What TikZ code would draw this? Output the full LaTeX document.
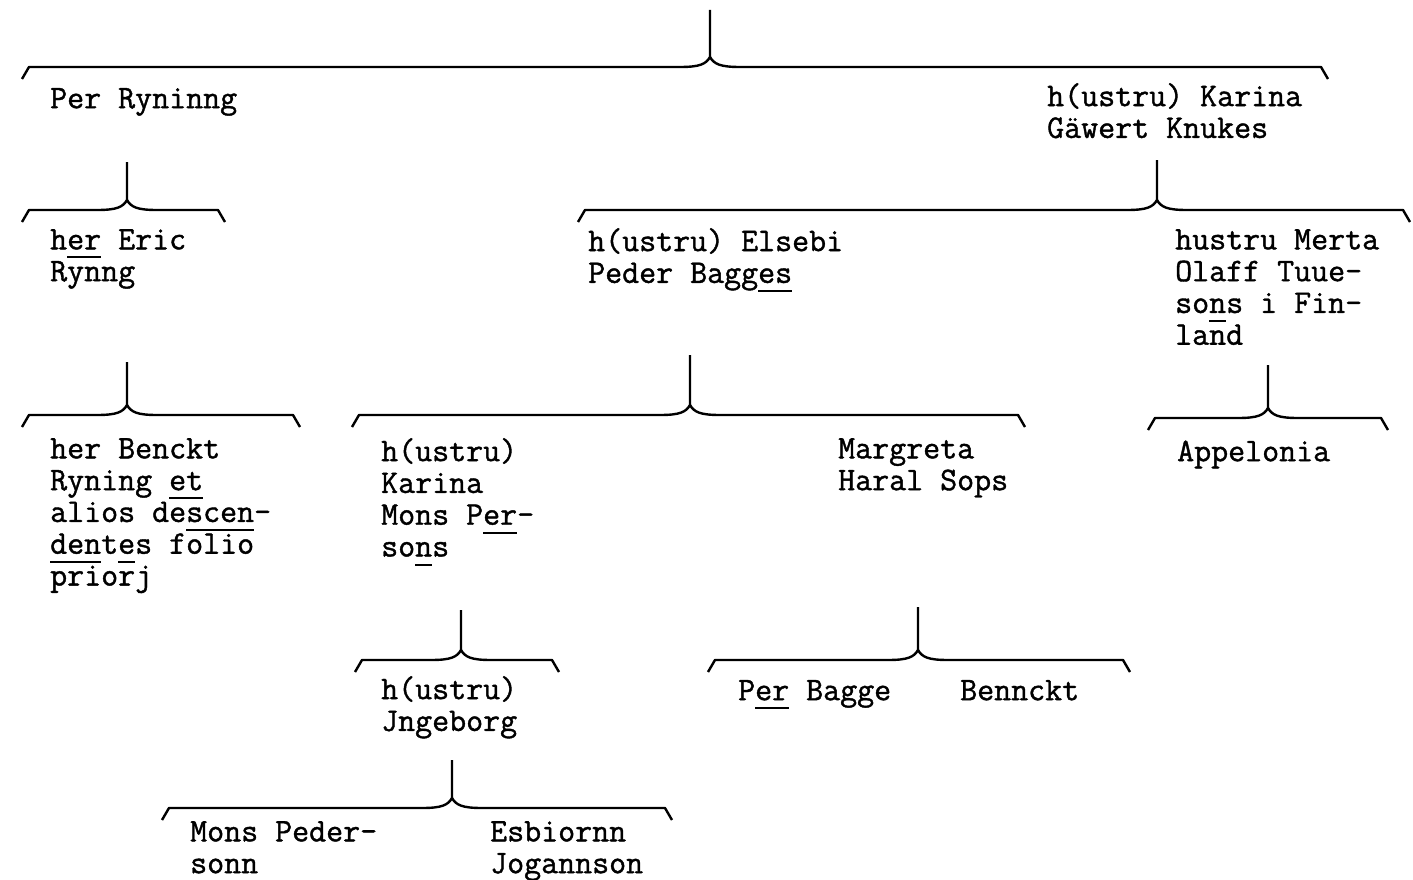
\documentclass[tikz,border=0pt]{standalone}
\usepackage{fontspec}
\newfontface\typed{Latin Modern Mono}[FakeBold=1.2]

% underline a few letters, placed low like the typed original
\newcommand{\xul}[1]{\setbox0\hbox{#1}\rlap{\rule[-9pt]{\wd0}{2pt}}\box0\relax}

% family brace: stem x, stem top, bar y, left tip x, right tip x
\newcommand{\kinbrace}[5]{%
  \draw[kinline] (#1,#2) -- (#1,#3-10)
    .. controls (#1-4,#3-3) and (#1-10,#3) .. (#1-30,#3) -- (#4+7,#3) -- (#4,#3+12);
  \draw[kinline] (#1,#3-10)
    .. controls (#1+4,#3-3) and (#1+10,#3) .. (#1+30,#3) -- (#5-7,#3) -- (#5,#3+12);
}

\tikzset{
  kinline/.style={line width=2.4pt, line join=round},
  % the point given is the baseline of the first line
  person/.style={anchor=north west, yshift=25pt, inner sep=0pt, align=left,
    font=\typed\fontsize{33}{31.8}\selectfont,
    execute at begin node={\rule{0pt}{25pt}}},
}

\begin{document}
\begin{tikzpicture}[x=1pt, y=-1pt]
\useasboundingbox (0,0) rectangle (1413,880);

% Generation 1
\kinbrace{710}{10}{67}{22}{1328}
\node[person] (per) at (50,108) {Per Ryninng};
\node[person] (karina) at (1047,108) {h(ustru) Karina\\Gäwert Knukes};

% Generation 2
\kinbrace{127}{162}{210}{22}{225}
\kinbrace{1157}{160}{210}{578}{1410}
\node[person] (eric) at (50,254) {h\xul{er} Eric\\Rynng};
\node[person] (elsebi) at (588,253) {h(ustru) Elsebi\\Peder Bagg\xul{es}};
\node[person] (merta) at (1175,254) {hustru Merta\\Olaff Tuue-\\so\xul{n}s i Fin-\\land};

% Generation 3
\kinbrace{127}{362}{415}{22}{300}
\kinbrace{690}{355}{415}{352}{1025}
\kinbrace{1268}{365}{418}{1148}{1388}
\node[person] (benckt) at (50,463) {her Benckt\\Ryning \xul{et}\\alios de\xul{scen}-\\\xul{den}t\xul{e}s folio\\priorj};
\node[person] (karinamons) at (381,463) {h(ustru)\\Karina\\Mons P\xul{er}-\\so\xul{n}s};
\node[person] (margreta) at (838,463) {Margreta\\Haral Sops};
\node[person] (appelonia) at (1177,461) {Appelonia};

% Generation 4
\kinbrace{461}{610}{660}{355}{559}
\kinbrace{918}{607}{660}{708}{1130}
\node[person] (jngeborg) at (381,701) {h(ustru)\\Jngeborg};
\node[person] (perbagge) at (738,700) {P\xul{er} Bagge};
\node[person] (bennckt) at (960,700) {Bennckt};

% Generation 5
\kinbrace{452}{760}{808}{162}{672}
\node[person] (mons) at (190,846) {Mons Peder-\\sonn};
\node[person] (esbiornn) at (490,846) {Esbiornn\\Jogannson};

\end{tikzpicture}
\end{document}
